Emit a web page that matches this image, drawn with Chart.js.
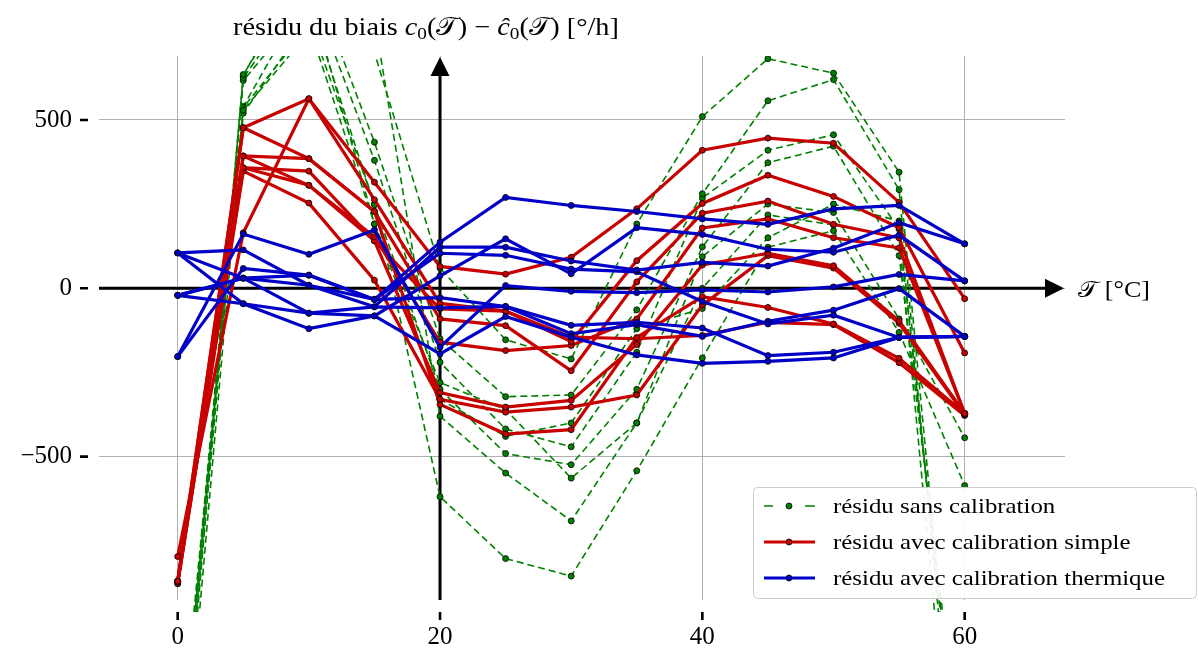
<!DOCTYPE html>
<html>
<head>
<meta charset="utf-8">
<script src="https://cdn.jsdelivr.net/npm/chart.js@4.4.1/dist/chart.umd.min.js"></script>
<style>html,body{margin:0;padding:0;background:#fff}</style>
</head>
<body>
<canvas id="chart" width="1198" height="648"></canvas>
<script>
'use strict';

// températures (°C)
const temperatures = [0, 5, 10, 15, 20, 25, 30, 35, 40, 45, 50, 55, 60];

// résidu sans calibration
const sans1 = [-1450, 529, 760, 700, 60, -153, -210, 191, 510, 682, 639, 345, -1700];
const sans2 = [-1600, 635, 950, 434, -150, -322, -317, -64, 281, 557, 620, 293, -1800];
const sans3 = [-1650, 625, 900, 380, -220, -418, -471, -190, 268, 410, 456, 176, -1600];
const sans4 = [-1550, 617, 850, 248, -300, -491, -524, -300, 123, 373, 422, 97, -1500];
const sans5 = [-1500, 537, 780, 191, -280, -360, -564, -400, 94, 250, 225, -91, -444];
const sans6 = [-1700, 520, 800, 250, -619, -803, -855, -542, -207, 122, 171, -131, -586];
const sans7 = [-1520, 630, 1000, 800, -380, -549, -691, -400, 0, 218, 188, 150, -1900];
const sans8 = [-1580, 540, 880, 191, -330, -440, -400, -120, -60, 150, 250, 200, -1650];

// résidu avec calibration simple
const simple1 = [-797, 165, 563, 315, 65, 42, 92, 236, 410, 446, 431, 255, -31];
const simple2 = [-870, 477, 563, 263, -45, -68, -158, 82, 252, 336, 273, 180, -192];
const simple3 = [-870, 477, 385, 228, -91, -111, -245, 19, 223, 259, 190, 150, -372];
const simple4 = [-870, 393, 306, 153, -160, -185, -170, -91, 179, 206, 150, 120, -372];
const simple5 = [-872, 358, 348, 141, -310, -353, -333, -167, 69, 104, 67, -97, -372];
const simple6 = [-876, 348, 253, 24, -330, -368, -353, -317, -50, 97, 60, -104, -375];
const simple7 = [-870, 393, 385, 228, -345, -433, -420, -146, -25, -57, -106, -208, -372];
const simple8 = [-878, 358, 306, 141, -61, -68, -145, -150, -140, -101, -108, -221, -378];

// résidu avec calibration thermique
const thermique1 = [-203, 161, 101, 173, -175, 8, -9, -13, -5, -11, 4, 41, 22];
const thermique2 = [-203, 59, 39, -33, 137, 270, 246, 228, 206, 190, 236, 246, 132];
const thermique3 = [105, 114, 9, -55, 122, 122, 81, 54, 77, 66, 119, 195, 132];
const thermique4 = [105, -46, -120, -82, 37, 147, 43, 180, 160, 116, 107, 158, 22];
const thermique5 = [-21, 30, 39, -33, 104, 98, 57, 49, -39, -106, -80, -146, -143];
const thermique6 = [-21, -46, -74, -55, -58, -54, -110, -101, -118, -200, -190, -146, -143];
const thermique7 = [-21, 30, -74, -82, -195, -84, -145, -198, -223, -217, -207, -146, -143];
const thermique8 = [105, 30, 9, -33, -28, -54, -135, -108, -143, -98, -65, -1, -143];

const xTicks = [0, 20, 40, 60];
const yTicks = [-500, 0, 500];

const GREEN = '#008000';
const RED = '#c80000';
const BLUE = '#0000c8';
const SERIF = "'Liberation Serif', 'DejaVu Serif', serif";
const STRETCH = 1.13; // élargit un peu le Times pour ressembler au Computer Modern

function makeSet(values, color, dashed, order) {
    return {
        data: temperatures.map((t, i) => ({ x: t, y: values[i] })),
        borderColor: color,
        backgroundColor: color,
        borderWidth: dashed ? 1.6 : 3.2,
        borderDash: dashed ? [7, 4] : [],
        pointRadius: 3,
        pointBorderWidth: 0.8,
        pointBorderColor: '#000',
        pointBackgroundColor: color,
        tension: 0,
        clip: { left: 0, top: 0, right: 0, bottom: 12 },
        order: order
    };
}

const datasets = [];
[thermique1, thermique2, thermique3, thermique4, thermique5, thermique6, thermique7, thermique8]
    .forEach(v => datasets.push(makeSet(v, BLUE, false, 0)));
[simple1, simple2, simple3, simple4, simple5, simple6, simple7, simple8]
    .forEach(v => datasets.push(makeSet(v, RED, false, 1)));
[sans1, sans2, sans3, sans4, sans5, sans6, sans7, sans8]
    .forEach(v => datasets.push(makeSet(v, GREEN, true, 2)));

// flèches des axes + petites graduations noires
const axesArrows = {
    id: 'axesArrows',
    beforeDatasetsDraw(chart) {
        const { ctx, chartArea: a, scales: { x, y } } = chart;
        const x0 = x.getPixelForValue(20);
        const y0 = y.getPixelForValue(0);
        ctx.save();
        ctx.strokeStyle = '#000';
        ctx.fillStyle = '#000';
        ctx.lineWidth = 3;
        ctx.beginPath();
        ctx.moveTo(x0, a.bottom);
        ctx.lineTo(x0, a.top + 15);
        ctx.moveTo(a.left, y0);
        ctx.lineTo(a.right - 15, y0);
        ctx.stroke();
        ctx.beginPath();
        ctx.moveTo(x0, a.top + 1);
        ctx.lineTo(x0 - 9.5, a.top + 20);
        ctx.lineTo(x0 + 9.5, a.top + 20);
        ctx.closePath();
        ctx.fill();
        ctx.beginPath();
        ctx.moveTo(a.right - 1, y0);
        ctx.lineTo(a.right - 20, y0 - 9.5);
        ctx.lineTo(a.right - 20, y0 + 9.5);
        ctx.closePath();
        ctx.fill();
        ctx.restore();
    },
    afterDraw(chart) {
        const { ctx, chartArea: a, scales: { x, y } } = chart;
        ctx.save();
        ctx.strokeStyle = '#000';
        ctx.lineWidth = 2.6;
        ctx.beginPath();
        yTicks.forEach(v => {
            const py = y.getPixelForValue(v);
            ctx.moveTo(80, py);
            ctx.lineTo(88, py);
        });
        xTicks.forEach(v => {
            const px = x.getPixelForValue(v);
            ctx.moveTo(px, a.bottom + 12);
            ctx.lineTo(px, a.bottom + 20);
        });
        ctx.stroke();
        ctx.restore();
    }
};

function drawParts(ctx, x, y, parts) {
    ctx.save();
    ctx.translate(x, y);
    ctx.scale(STRETCH, 1);
    let cx = 0;
    parts.forEach(p => {
        ctx.font = p.f;
        ctx.fillText(p.t, cx, p.dy || 0);
        cx += ctx.measureText(p.t).width;
    });
    ctx.restore();
}

// titre de l'axe y, étiquette de l'axe x et légende
const labelsAndLegend = {
    id: 'labelsAndLegend',
    afterDraw(chart) {
        const { ctx, scales: { y } } = chart;
        const reg = '25px ' + SERIF;
        const ita = 'italic 25px ' + SERIF;
        const sub = '17px ' + SERIF;
        ctx.save();
        ctx.fillStyle = '#000';
        ctx.textAlign = 'left';
        ctx.textBaseline = 'alphabetic';
        drawParts(ctx, 233, 35, [
            { t: 'résidu du biais ', f: reg },
            { t: 'c', f: ita },
            { t: '0', f: sub, dy: 4 },
            { t: '(𝒯) − ', f: reg },
            { t: 'ĉ', f: ita },
            { t: '0', f: sub, dy: 4 },
            { t: '(𝒯) [°/h]', f: reg }
        ]);
        drawParts(ctx, 1078, y.getPixelForValue(0) + 9, [
            { t: '𝒯 [°C]', f: '23px ' + SERIF }
        ]);

        // légende
        const bx = 753, by = 487, bw = 444, bh = 111;
        ctx.fillStyle = 'rgba(255,255,255,0.93)';
        ctx.strokeStyle = '#cccccc';
        ctx.lineWidth = 1;
        ctx.beginPath();
        ctx.roundRect(bx + 0.5, by + 0.5, bw - 1, bh, 4);
        ctx.fill();
        ctx.stroke();

        const items = [
            { label: 'résidu sans calibration', color: GREEN, dashed: true },
            { label: 'résidu avec calibration simple', color: RED, dashed: false },
            { label: 'résidu avec calibration thermique', color: BLUE, dashed: false }
        ];
        items.forEach((it, i) => {
            const cy = 506 + i * 36;
            ctx.strokeStyle = it.color;
            ctx.beginPath();
            if (it.dashed) {
                ctx.lineWidth = 1.6;
                ctx.moveTo(764, cy); ctx.lineTo(773, cy);
                ctx.moveTo(805, cy); ctx.lineTo(815, cy);
            } else {
                ctx.lineWidth = 3.2;
                ctx.moveTo(764, cy); ctx.lineTo(815, cy);
            }
            ctx.stroke();
            ctx.beginPath();
            ctx.arc(789, cy, 3, 0, Math.PI * 2);
            ctx.fillStyle = it.color;
            ctx.fill();
            ctx.lineWidth = 0.8;
            ctx.strokeStyle = '#000';
            ctx.stroke();
            ctx.fillStyle = '#000';
            drawParts(ctx, 833, cy + 7, [{ t: it.label, f: '22px ' + SERIF }]);
        });
        ctx.restore();
    }
};

new Chart(document.getElementById('chart'), {
    type: 'line',
    data: { datasets: datasets },
    options: {
        responsive: false,
        animation: false,
        devicePixelRatio: 1,
        layout: { padding: { top: 56, right: 133, bottom: 0, left: 0 } },
        plugins: {
            legend: { display: false },
            tooltip: { enabled: false }
        },
        scales: {
            x: {
                type: 'linear',
                min: -6,
                max: 67.65,
                afterBuildTicks: s => { s.ticks = xTicks.map(v => ({ value: v })); },
                afterFit: s => { s.height = 48; },
                grid: { color: '#b0b0b0', lineWidth: 1, drawTicks: false },
                border: { display: false },
                ticks: { color: '#000', font: { family: SERIF, size: 25 }, padding: 22, maxRotation: 0 }
            },
            y: {
                min: -926,
                max: 690,
                afterBuildTicks: s => { s.ticks = yTicks.map(v => ({ value: v })); },
                afterFit: s => { s.width = 99; },
                grid: { color: '#b0b0b0', lineWidth: 1, drawTicks: false },
                border: { display: false },
                ticks: {
                    color: '#000',
                    font: { family: SERIF, size: 25 },
                    padding: 27,
                    callback: v => (v < 0 ? '−' + Math.abs(v) : String(v))
                }
            }
        }
    },
    plugins: [axesArrows, labelsAndLegend]
});
</script>
</body>
</html>
